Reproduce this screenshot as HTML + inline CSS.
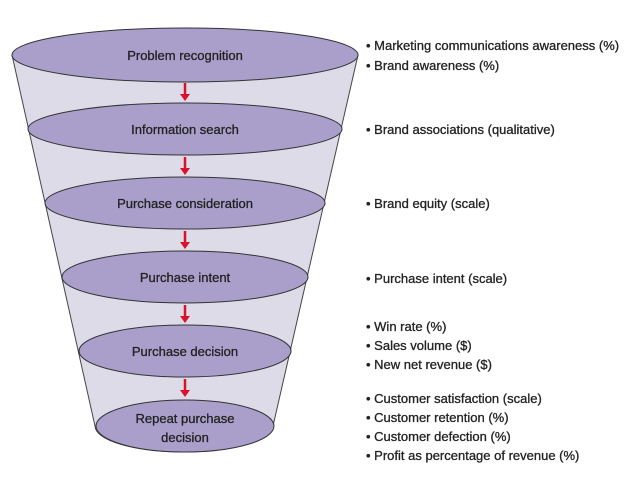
<!DOCTYPE html>
<html><head><meta charset="utf-8"><style>
body{margin:0;background:#fff;width:638px;height:479px;overflow:hidden}
svg text{font-family:"Liberation Sans",Arial,sans-serif;fill:#222;stroke:#222;stroke-width:0.3}
</style></head><body>
<svg width="638" height="479" viewBox="0 0 638 479">
<path d="M12,55 L95,426 A89,26 0 0 0 273,426 L358,55 Z" fill="#dddbe8" stroke="#444" stroke-width="1"/>
<g fill="#aa9fcb" stroke="#333" stroke-width="1">
<ellipse cx="185" cy="55" rx="173" ry="27"/>
<ellipse cx="185" cy="129" rx="157" ry="26"/>
<ellipse cx="185" cy="203" rx="140" ry="26"/>
<ellipse cx="185" cy="277" rx="123" ry="26"/>
<ellipse cx="185" cy="351" rx="106" ry="26"/>
<ellipse cx="185" cy="426" rx="89" ry="26"/>
</g>
<g stroke="#d9122a" stroke-width="2.5" fill="#d9122a">
<line x1="185" y1="83" x2="185" y2="95"/><polygon points="180,94 190,94 185,101" stroke="none"/>
<line x1="185" y1="157" x2="185" y2="169"/><polygon points="180,168 190,168 185,175" stroke="none"/>
<line x1="185" y1="231" x2="185" y2="243"/><polygon points="180,242 190,242 185,249" stroke="none"/>
<line x1="185" y1="305" x2="185" y2="317"/><polygon points="180,316 190,316 185,323" stroke="none"/>
<line x1="185" y1="379" x2="185" y2="391"/><polygon points="180,390 190,390 185,397" stroke="none"/>
</g>
<g font-size="13" text-anchor="middle">
<text x="185" y="60">Problem recognition</text>
<text x="185" y="134">Information search</text>
<text x="185" y="208">Purchase consideration</text>
<text x="185" y="282">Purchase intent</text>
<text x="185" y="356">Purchase decision</text>
<text x="185" y="423">Repeat purchase</text>
<text x="185" y="442">decision</text>
</g>
<g font-size="13">
<text x="366" y="50">• Marketing communications awareness (%)</text>
<text x="366" y="70">• Brand awareness (%)</text>
<text x="366" y="134">• Brand associations (qualitative)</text>
<text x="366" y="208">• Brand equity (scale)</text>
<text x="366" y="283">• Purchase intent (scale)</text>
<text x="366" y="331">• Win rate (%)</text>
<text x="366" y="350">• Sales volume ($)</text>
<text x="366" y="369">• New net revenue ($)</text>
<text x="366" y="403">• Customer satisfaction (scale)</text>
<text x="366" y="422">• Customer retention (%)</text>
<text x="366" y="441">• Customer defection (%)</text>
<text x="366" y="460">• Profit as percentage of revenue (%)</text>
</g>
</svg>
</body></html>
